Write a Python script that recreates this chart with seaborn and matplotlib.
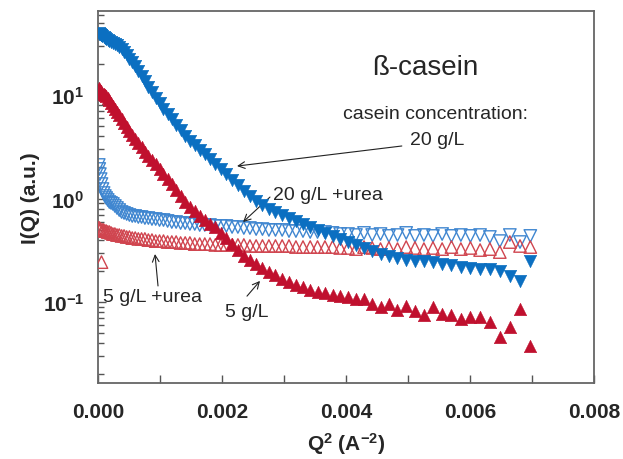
import matplotlib
matplotlib.use("Agg")
import matplotlib.pyplot as plt
import numpy as np
import seaborn as sns
from matplotlib.ticker import LogLocator, MultipleLocator, FixedLocator, FixedFormatter, NullFormatter

# Q^2 grid, in units of 1e-6 A^-2
q2_e6 = [12.25, 20.25, 30.25, 42.25, 56.25, 72.25, 90.25, 110.25, 132.25, 156.25,
         182.25, 210.25, 240.25, 272.25, 306.25, 342.25, 380.25, 420.25, 462.25, 506.25,
         552.25, 600.25, 650.25, 702.25, 756.25, 812.25, 870.25, 930.25, 992.25, 1056.25,
         1122.25, 1190.25, 1260.25, 1332.25, 1406.25, 1482.25, 1560.25, 1640.25, 1722.25, 1806.25,
         1892.25, 1980.25, 2070.25, 2162.25, 2256.25, 2352.25, 2450.25, 2550.25, 2652.25, 2756.25,
         2862.25, 2970.25, 3080.25, 3192.25, 3306.25, 3422.25, 3540.25, 3660.25, 3782.25, 3906.25,
         4032.25, 4160.25, 4290.25, 4422.25, 4556.25, 4692.25, 4830.25, 4970.25, 5112.25, 5256.25,
         5402.25, 5550.25, 5700.25, 5852.25, 6006.25, 6162.25, 6320.25, 6480.25, 6642.25, 6806.25,
         6972.25]

# 20 g/L (filled down triangles)
casein_20 = [39.7, 38.8, 38.8, 38.0, 38.0, 37.2, 36.3, 35.6, 34.8, 34.0,
             33.2, 32.5, 31.8, 31.1, 30.4, 29.1, 27.8, 26.0, 24.3, 22.3,
             20.8, 19.1, 17.1, 15.3, 13.7, 11.9, 10.7, 9.35, 8.37, 7.33,
             6.55, 5.86, 5.13, 4.59, 4.02, 3.59, 3.29, 2.94, 2.69, 2.41,
             2.15, 1.93, 1.72, 1.51, 1.35, 1.18, 1.057, 0.946, 0.865, 0.792,
             0.741, 0.693, 0.648, 0.607, 0.568, 0.531, 0.497, 0.465, 0.435, 0.407,
             0.380, 0.356, 0.333, 0.311, 0.291, 0.278, 0.266, 0.255, 0.249, 0.249,
             0.243, 0.233, 0.228, 0.218, 0.213, 0.208, 0.208, 0.200, 0.178, 0.160,
             0.249]

# 5 g/L (filled up triangles)
casein_5 = [11.68, 11.42, 11.17, 10.93, 10.69, 10.45, 10.22, 10.0, 9.78, 9.35,
            8.95, 8.37, 7.83, 7.33, 6.85, 6.41, 5.86, 5.36, 4.91, 4.49,
            4.11, 3.76, 3.44, 3.15, 2.81, 2.57, 2.35, 2.15, 1.93, 1.72,
            1.54, 1.38, 1.21, 1.057, 0.925, 0.828, 0.757, 0.678, 0.620, 0.568,
            0.531, 0.465, 0.415, 0.363, 0.318, 0.278, 0.255, 0.233, 0.213, 0.195,
            0.182, 0.167, 0.156, 0.146, 0.140, 0.131, 0.125, 0.122, 0.117, 0.114,
            0.112, 0.107, 0.107, 0.0957, 0.0895, 0.0957, 0.0837, 0.0915, 0.0818, 0.0748,
            0.0895, 0.0766, 0.0748, 0.0685, 0.0716, 0.0716, 0.0641, 0.0459, 0.0573, 0.0855,
            0.0376]

# 20 g/L + urea (open down triangles)
casein_20_urea = [2.11, 1.93, 1.72, 1.54, 1.38, 1.235, 1.13, 1.057, 1.011, 0.968,
                  0.925, 0.906, 0.886, 0.847, 0.810, 0.774, 0.741, 0.725, 0.709, 0.693,
                  0.678, 0.678, 0.663, 0.663, 0.648, 0.648, 0.634, 0.634, 0.620, 0.620,
                  0.607, 0.593, 0.593, 0.580, 0.580, 0.568, 0.568, 0.555, 0.555, 0.555,
                  0.543, 0.543, 0.543, 0.531, 0.531, 0.519, 0.519, 0.507, 0.507, 0.497,
                  0.497, 0.497, 0.485, 0.485, 0.485, 0.475, 0.475, 0.475, 0.465, 0.454,
                  0.454, 0.444, 0.465, 0.444, 0.454, 0.435, 0.444, 0.465, 0.435, 0.444,
                  0.435, 0.454, 0.435, 0.444, 0.435, 0.444, 0.425, 0.388, 0.444, 0.380,
                  0.435]

# 5 g/L + urea (open up triangles)
casein_5_urea = [0.519, 0.519, 0.507, 0.507, 0.243, 0.497, 0.497, 0.485, 0.485, 0.475,
                 0.475, 0.465, 0.454, 0.454, 0.444, 0.444, 0.435, 0.435, 0.425, 0.425,
                 0.415, 0.415, 0.407, 0.407, 0.407, 0.397, 0.397, 0.388, 0.388, 0.388,
                 0.380, 0.380, 0.380, 0.372, 0.372, 0.372, 0.363, 0.363, 0.363, 0.363,
                 0.356, 0.356, 0.356, 0.356, 0.356, 0.356, 0.348, 0.348, 0.348, 0.348,
                 0.348, 0.348, 0.348, 0.340, 0.340, 0.340, 0.340, 0.340, 0.340, 0.333,
                 0.333, 0.325, 0.340, 0.333, 0.325, 0.333, 0.325, 0.340, 0.333, 0.325,
                 0.333, 0.325, 0.340, 0.325, 0.333, 0.318, 0.325, 0.304, 0.380, 0.348,
                 0.340]

x_ticks = [0.000, 0.002, 0.004, 0.006, 0.008]
x_ticklabels = ["0.000", "0.002", "0.004", "0.006", "0.008"]
y_ticks = [0.1, 1.0, 10.0]
y_ticklabels = [r"$\mathrm{10^{-1}}$", r"$\mathrm{10^{0}}$", r"$\mathrm{10^{1}}$"]

BLUE = "#0b6fc1"
RED = "#c0102e"
BLUE_OPEN = "#3f86d0"
RED_OPEN = "#d0454f"

sns.set_style("ticks")
plt.rcParams["font.family"] = ["Liberation Sans", "DejaVu Sans"]
plt.rcParams["mathtext.fontset"] = "custom"
plt.rcParams["mathtext.rm"] = "Liberation Sans:bold"
plt.rcParams["mathtext.it"] = "Liberation Sans:bold"
plt.rcParams["mathtext.bf"] = "Liberation Sans:bold"
plt.rcParams["mathtext.default"] = "rm"

q2 = np.array(q2_e6) * 1e-6

fig = plt.figure(figsize=(6.23, 4.6), dpi=100)
ax = fig.add_axes([0.1573, 0.1652, 0.7962, 0.8087])

MS = 80
sns.scatterplot(x=q2, y=casein_20_urea, marker="v", s=MS, color=BLUE_OPEN,
                facecolor="none", edgecolor=BLUE_OPEN, linewidth=1.0, ax=ax, zorder=2)
sns.scatterplot(x=q2, y=casein_5_urea, marker="^", s=MS, color=RED_OPEN,
                facecolor="none", edgecolor=RED_OPEN, linewidth=1.0, ax=ax, zorder=3)
sns.scatterplot(x=q2, y=casein_20, marker="v", s=MS, color=BLUE,
                edgecolor=BLUE, linewidth=0.4, ax=ax, zorder=4)
sns.scatterplot(x=q2, y=casein_5, marker="^", s=MS, color=RED,
                edgecolor=RED, linewidth=0.4, ax=ax, zorder=5)

ax.set_yscale("log")
ax.set_xlim(0, 0.008)
ax.set_ylim(0.0165, 64.9)

ax.xaxis.set_major_locator(FixedLocator(x_ticks))
ax.xaxis.set_major_formatter(FixedFormatter(x_ticklabels))
ax.xaxis.set_minor_locator(MultipleLocator(0.001))
ax.yaxis.set_major_locator(FixedLocator(y_ticks))
ax.yaxis.set_major_formatter(FixedFormatter(y_ticklabels))
ax.yaxis.set_minor_locator(LogLocator(base=10, subs=np.arange(2, 10)))
ax.yaxis.set_minor_formatter(NullFormatter())

ax.tick_params(axis="both", which="major", direction="in", length=6, width=1.0,
               color="#555555", labelsize=15, pad=14)
ax.tick_params(axis="x", which="minor", direction="in", length=6, width=1.0, color="#555555")
ax.tick_params(axis="y", which="minor", direction="in", length=4, width=1.0, color="#555555")
ax.tick_params(axis="y", which="major", pad=10)
for lab in ax.get_xticklabels() + ax.get_yticklabels():
    lab.set_fontweight("bold")

for sp in ax.spines.values():
    sp.set_color("#666666")
    sp.set_linewidth(1.3)

ax.set_xlabel(r"Q$^{2}$ (A$^{-2}$)", fontsize=15, fontweight="bold", labelpad=6)
ax.set_ylabel("I(Q) (a.u.)", fontsize=15, fontweight="bold", labelpad=2)

ax.text(0.00527, 18.6, "\u00df-casein", fontsize=20, ha="center", va="center")
ax.text(0.00544, 6.70, "casein concentration:", fontsize=14, ha="center", va="center")
ax.text(0.00547, 3.76, "20 g/L", fontsize=14, ha="center", va="center")
ax.text(0.00371, 1.105, "20 g/L +urea", fontsize=14, ha="center", va="center")
ax.text(0.000871, 0.114, "5 g/L +urea", fontsize=14, ha="center", va="center")
ax.text(0.002403, 0.0818, "5 g/L", fontsize=14, ha="center", va="center")

arrow = dict(arrowstyle="->", lw=0.8, color="#222222", shrinkA=0, shrinkB=0,
             mutation_scale=12)
ax.annotate("", xy=(0.002242, 2.06), xytext=(0.0049, 3.22), arrowprops=arrow)
ax.annotate("", xy=(0.002339, 0.593), xytext=(0.002774, 1.034), arrowprops=arrow)
ax.annotate("", xy=(0.000919, 0.291), xytext=(0.000968, 0.143), arrowprops=arrow)
ax.annotate("", xy=(0.002613, 0.160), xytext=(0.002403, 0.114), arrowprops=arrow)

fig.savefig("out.png", dpi=100)
